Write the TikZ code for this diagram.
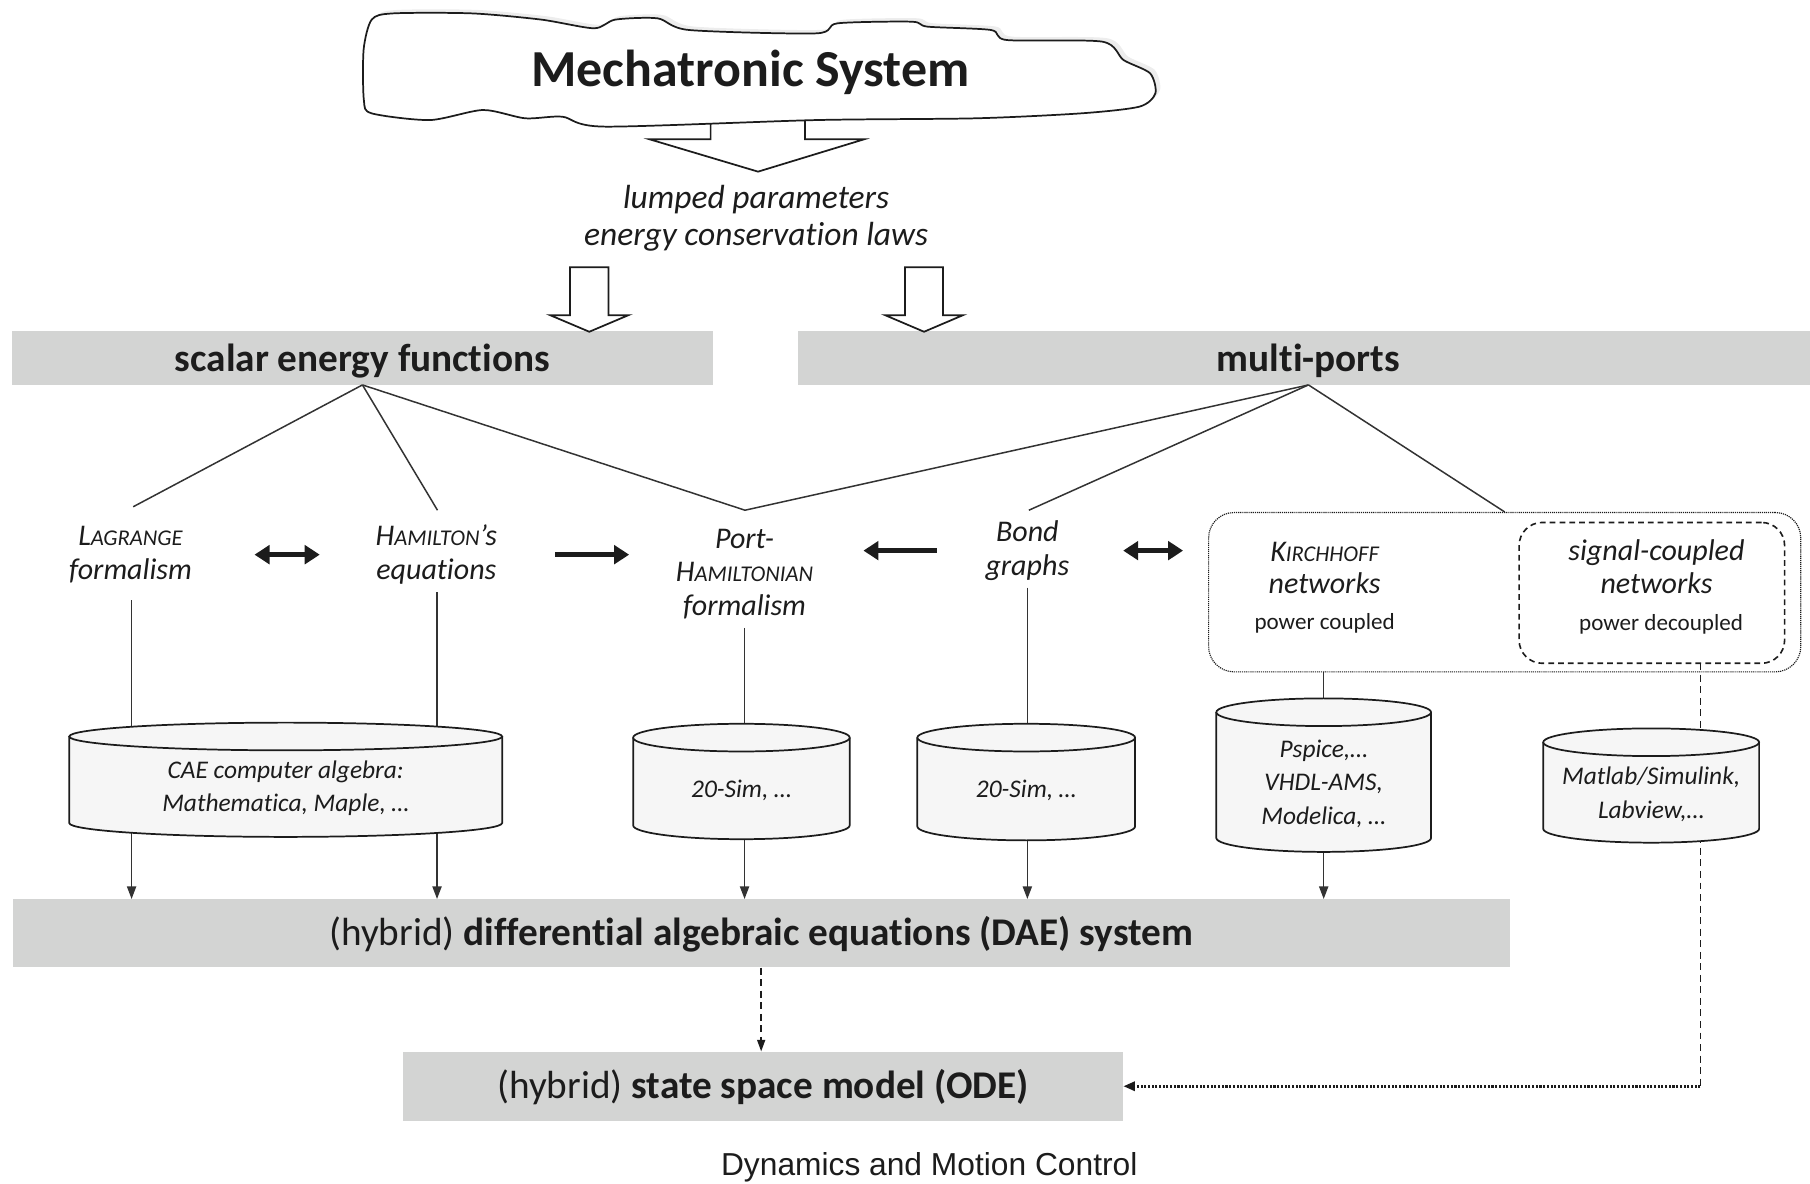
\documentclass[tikz,border=0pt]{standalone}
\usepackage{fontspec}
\setmainfont{Carlito}[Ligatures={NoCommon}]
\newfontfamily\capfont{Liberation Sans}
\usetikzlibrary{arrows.meta}
\pgfdeclarelayer{back}
\pgfsetlayers{back,main}
\definecolor{barg}{RGB}{211,212,211}
\definecolor{ink}{RGB}{28,28,28}
\definecolor{cylg}{RGB}{246,246,246}
\newcommand\fsz[2]{\fontsize{#1}{#2}\selectfont}
\newcommand\fakesc[2]{#1{\fontsize{19.5}{19.5}\selectfont #2}}
% drum: #1 name, #2 cx, #3 y of top ellipse centre, #4 half width, #5 body height, #6 text
\newcommand\drum[6]{%
  \coordinate (#1-t) at (#2,#3);
  \coordinate (#1-b) at (#2,#3+#5);
  \filldraw[cylline] (#2-#4,#3) -- (#2-#4,#3+#5) arc[start angle=180,end angle=360,x radius=#4pt,y radius=12pt] -- (#2+#4,#3);
  \filldraw[cylline] (#2,#3) ellipse[x radius=#4pt,y radius=12pt];
  \node[cyltext] (#1) at (#2,#3+#5/2+7.5) {#6};
}
\begin{document}
\begin{tikzpicture}[x=1pt,y=-1pt,
  graybar/.style={fill=barg,draw=none,inner sep=0,text=ink},
  lbl/.style={font=\itshape\fsz{26}{29},align=center,inner sep=0,text=ink},
  subl/.style={font=\fsz{20}{24},inner sep=0,text=ink},
  cyltext/.style={font=\itshape\fsz{22}{29},align=center,inner sep=0,text=ink},
  cylline/.style={draw=ink,fill=cylg,line width=1.5pt},
  thinln/.style={draw=ink!90,line width=1.3pt},
  downarr/.style={thinln,-{Triangle[length=11pt,width=8pt]}},
  boldarr/.style={draw=ink,line width=4pt,-{Triangle[length=13pt,width=16pt]}},
  dblarr/.style={draw=ink,line width=4pt,{Triangle[length=13pt,width=16pt]}-{Triangle[length=13pt,width=16pt]}},
  dasharr/.style={draw=ink,line width=1.2pt,dash pattern=on 6pt off 4pt},
  dotarr/.style={draw=ink,line width=2.2pt,dash pattern=on 1.8pt off 1.4pt,-{Triangle[length=10pt,width=8pt]}},
  hollow/.style={draw=ink,fill=white,line width=1.5pt,line join=miter}
]
\useasboundingbox (0,0) rectangle (1568,1025);

% ---------- cloud ----------
\fill[gray!14,shift={(4,-3)}] plot[smooth cycle,tension=0.45] coordinates {(315,43) (322,17) (340.5,11.6) (409,11.6) (469,17) (514.6,24.5) (533,17) (569.7,15.9) (597,26) (707,28.9) (725.6,20.2) (789.8,18.8) (803.6,23.1) (858.6,26) (872.4,34.7) (955,36.1) (973.3,52) (996.3,63.5) (1000.9,80.9) (987,92.4) (936.5,98.2) (845,102.5) (707.3,104) (523.9,109.7) (487.1,101.1) (455,102.5) (418.4,95.3) (372.5,104) (322,98.2) (315.2,86.6)};
\draw[hollow] (615.6,95) -- (615.6,120.7) -- (562.8,120.7) -- (656.7,148.7) -- (748.5,120.7) -- (697.3,120.7) -- (697.3,95);
\filldraw[draw=ink,fill=white,line width=1.5pt] plot[smooth cycle,tension=0.45] coordinates {(315,43) (322,17) (340.5,11.6) (409,11.6) (469,17) (514.6,24.5) (533,17) (569.7,15.9) (597,26) (707,28.9) (725.6,20.2) (789.8,18.8) (803.6,23.1) (858.6,26) (872.4,34.7) (955,36.1) (973.3,52) (996.3,63.5) (1000.9,80.9) (987,92.4) (936.5,98.2) (845,102.5) (707.3,104) (523.9,109.7) (487.1,101.1) (455,102.5) (418.4,95.3) (372.5,104) (322,98.2) (315.2,86.6)};
\node[font=\bfseries\fsz{45}{50},inner sep=0,text=ink] (mech) at (650,63) {Mechatronic System};

\node[font=\itshape\fsz{29}{32},align=center,inner sep=0,text=ink] (lump) at (655,189) {lumped parameters\\energy conservation laws};

\draw[hollow] (493.8,231.6) -- (493.8,273) -- (476.5,273) -- (510.5,287.4) -- (544.5,273) -- (527.2,273) -- (527.2,231.6) -- cycle;
\draw[hollow] (784,231.6) -- (784,273) -- (766.7,273) -- (800.5,287.4) -- (834.3,273) -- (817,273) -- (817,231.6) -- cycle;

% ---------- labels ----------
\node[lbl] (lag) at (113,480.5) {\fakesc{L}{AGRANGE}\\formalism};
\node[lbl] (ham) at (378,480.5) {\fakesc{H}{AMILTON}’s\\equations};
\node[lbl] (ph) at (645,497) {Port-\\\fakesc{H}{AMILTONIAN}\\formalism};
\node[lbl] (bond) at (890,477) {Bond\\graphs};
\node[draw=ink,line width=1pt,dash pattern=on 1pt off 0.8pt,rounded corners=22pt,minimum width=513pt,minimum height=138pt,inner sep=0] (netbox) at (1303.5,513) {};
\node[draw=ink,line width=1.4pt,dash pattern=on 5pt off 3.5pt,rounded corners=20pt,minimum width=230pt,minimum height=122pt,inner sep=0] (sigbox) at (1431,513.6) {};
\node[lbl,font=\itshape\fsz{26}{27.5}] (kir) at (1147.5,492) {\fakesc{K}{IRCHHOFF}\\networks};
\node[subl] (kirs) at (1147.5,540) {power coupled};
\node[lbl,font=\itshape\fsz{26}{28}] (sig) at (1435,491) {signal-coupled\\networks};
\node[subl] (sigs) at (1439,541) {power decoupled};

% ---------- cylinders ----------
\drum{cae}{247.5}{638}{187.5}{75}{CAE computer algebra:\\Mathematica, Maple, \dots}
\drum{simA}{642.3}{639}{93.8}{76}{20-Sim, \dots}
\drum{simB}{889}{639}{94.3}{77}{20-Sim, \dots}
\drum{psp}{1146.7}{617}{93}{109}{Pspice,\dots\\VHDL-AMS,\\Modelica, \dots}
\drum{mlab}{1430.4}{643}{93.5}{75}{Matlab/Simulink,\\Labview,\dots}

% ---------- caption ----------
\node[font=\capfont\fsz{27.5}{32},inner sep=0,text=ink] (cap) at (805,1011) {Dynamics and Motion Control};

% ---------- background: bars and connectors ----------
\begin{pgfonlayer}{back}
\node[graybar,font=\bfseries\fsz{34}{40},text height=28.5pt,text depth=5.5pt,minimum width=608pt,minimum height=46.5pt] (sef) at (314,310) {scalar energy functions};
\node[graybar,font=\bfseries\fsz{34}{40},text height=28.5pt,text depth=5.5pt,minimum width=885pt,minimum height=46.5pt] (mp) at (1133.5,310) {multi-ports};
\node[graybar,font=\fsz{34}{40},text height=27.5pt,text depth=6.5pt,minimum width=1297pt,minimum height=59pt] (dae) at (659.4,808.5) {(hybrid) \textbf{differential algebraic equations (DAE) system}};
\node[graybar,font=\fsz{34}{40},text height=27.5pt,text depth=6.5pt,minimum width=624pt,minimum height=60pt] (ode) at (661,941) {(hybrid) \textbf{state space model (ODE)}};

\coordinate (lag-in) at (115.4,439);
\coordinate (ham-in) at (379,442);
\coordinate (ph-in) at (645.4,442);
\coordinate (bond-in) at (891.3,442);
\coordinate (lag-out) at (114,520);
\coordinate (ham-out) at (378.6,513);
\coordinate (ph-out) at (645,544);
\coordinate (bond-out) at (890,509);
\coordinate (sigout) at (1473,574.5);

\draw[thinln] (sef.south) -- (lag-in);
\draw[thinln] (sef.south) -- (ham-in);
\draw[thinln,line join=miter] (sef.south) -- (ph-in) -- (mp.south);
\draw[thinln] (mp.south) -- (bond-in);
\draw[thinln] (mp.south) -- (netbox.north);

\draw[thinln] (lag-out) -- (lag-out |- cae-t);
\draw[thinln] (ham-out) -- (ham-out |- cae-t);
\draw[thinln] (ph-out) -- (ph-out |- simA-t);
\draw[thinln] (bond-out) -- (bond-out |- simB-t);
\draw[thinln] (netbox.south -| psp-t) -- (psp-t);

\draw[downarr] (lag-out |- cae-b) -- (lag-out |- dae.north);
\draw[downarr] (ham-out |- cae-b) -- (ham-out |- dae.north);
\draw[downarr] (ph-out |- simA-b) -- (ph-out |- dae.north);
\draw[downarr] (bond-out |- simB-b) -- (bond-out |- dae.north);
\draw[downarr] (psp-b) -- (psp-b |- dae.north);

\draw[dasharr,-{Triangle[length=10pt,width=7pt]}] (dae.south) -- (dae.south |- ode.north);
\draw[dasharr] (sigout) -- (sigout |- ode.east);
\draw[dotarr] (sigout |- ode.east) -- (ode.east);

\draw[dblarr,shorten <=107.5pt,shorten >=101pt] (lag.center) -- (ham.center);
\draw[boldarr,shorten <=103pt,shorten >=100pt] (ham.center) -- (ham.center -| ph.center);
\draw[boldarr,shorten <=78.5pt,shorten >=103pt] (bond.center) -- (bond.center -| ph.center);
\draw[dblarr,shorten <=83pt,shorten >=21.6pt] (bond.center) -- (bond.center -| netbox.west);
\end{pgfonlayer}
\end{tikzpicture}
\end{document}
